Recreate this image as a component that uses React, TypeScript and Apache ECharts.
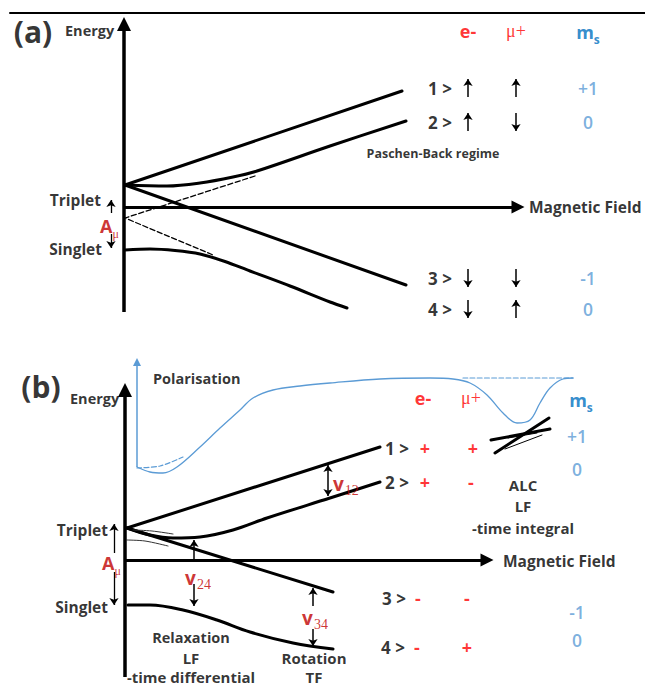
import React, { useEffect, useRef } from 'react';
import * as echarts from 'echarts';

const W = 645;
const H = 686;

// ---------- panel (a) geometry (px-like data units) ----------
const topRule = [[10, 13], [645, 13]];
const aEnergyAxis = [[124, 312], [124, 24]];
const aFieldAxis = [[124, 207], [518, 207]];
const aLevel1 = [[125, 185], [402, 91]];
const aLevel2 = [[125, 185], [167, 186], [200, 183], [233, 177], [257, 171], [330, 146], [406, 121]];
const aLevel3 = [[125, 185], [406, 285]];
const aLevel4 = [[125, 250], [150, 249], [175, 250.5], [200, 254], [225, 261.5], [250, 271], [290, 286], [330, 302], [347, 308]];
const aAsymptotes = [[255, 176], [125, 218], [213, 255]];
const aAmuArrows = [[[111, 213], [111, 200]], [[111, 234], [111, 248]]];

const ketsA = ['1 >', '2 >', '3 >', '4 >'];
const rowYA = [88, 122, 278, 309];
const eSpinA = [1, 1, -1, -1];
const muSpinA = [1, -1, -1, 1];
const msA = ['+1', '0', '-1', '0'];

// ---------- panel (b) geometry ----------
const bEnergyAxis = [[125, 677], [125, 390]];
const bFieldAxis = [[125, 560], [487, 560]];
const bLevel1 = [[127, 528], [380, 447]];
const bLevel2 = [[127, 528], [150, 535], [173, 538], [200, 537], [233, 530], [267, 518], [330, 498], [380, 482]];
const bLevel3 = [[127, 528], [333, 592]];
const bLevel4 = [[128, 605], [150, 605], [183, 610], [217, 620], [250, 632], [293, 643], [333, 649]];
const bGapLines = [[[133, 530], [152, 531], [173, 534]], [[127, 540], [145, 541], [168, 546]]];
const polarisation = [
  [137, 467], [150, 472], [163, 473], [177, 467], [200, 447], [220, 428], [240, 410], [253, 398],
  [273, 390], [300, 386], [330, 383], [380, 379], [430, 378], [453, 379], [470, 383], [487, 395],
  [503, 413], [517, 423], [530, 420], [540, 403], [550, 388], [563, 379], [573, 378],
];
const polDashed = [[[137, 468], [160, 466], [183, 457]], [[463, 378], [573, 378]]];
const polAxis = [[137, 467], [137, 362]];
const alcThick = [[[491, 440], [550, 429]], [[495, 453], [549, 418]]];
const alcThin = [[[505, 449], [542, 435]], [[508, 438], [537, 433]]];
const bAmuArrows = [[[114, 553], [114, 524]], [[114, 572], [114, 605]]];
const nuArrows = [
  [[328, 481], [328, 465]], [[328, 481], [328, 496]],
  [[194, 561], [194, 540]], [[194, 584], [194, 606]],
  [[313, 606], [313, 588]], [[313, 629], [313, 646]],
];

const ketsB = ['1 >', '2 >', '3 >', '4 >'];
const rowYB = [448, 482, 598, 647];
const ketXB = [397, 397, 394, 393];
const eSignB = ['+', '+', '-', '-'];
const eXB = [425, 425, 418, 417];
const muSignB = ['+', '-', '-', '+'];
const muXB = [473, 471, 467, 467];
const msB = ['+1', '0', '-1', '0'];
const msYB = [436, 469, 612, 640];

const FONT = '"Open Sans", "Noto Sans", sans-serif';
const SERIF = '"Liberation Serif", serif';
const RED = '#FF0000';
const DARKRED = '#C00000';
const LIGHTBLUE = '#5B9BD5';
const BLUE = '#0070C0';

type Pt = number[];

function lineSeries(data: Pt[], opts: any = {}) {
  return {
    type: 'line',
    data,
    symbol: 'none',
    showSymbol: false,
    silent: true,
    smooth: opts.smooth ?? false,
    lineStyle: {
      color: opts.color ?? '#000',
      width: opts.width ?? 3,
      type: opts.dash ? 'dashed' : 'solid',
      cap: 'round',
    },
    z: opts.z ?? 2,
  };
}

function arrowSeries(segs: Pt[][], opts: any = {}) {
  return {
    type: 'lines',
    coordinateSystem: 'cartesian2d',
    silent: true,
    symbol: opts.symbol ?? ['none', 'arrow'],
    symbolSize: opts.size ?? 6,
    lineStyle: { color: opts.color ?? '#000', width: opts.width ?? 1.5, opacity: 1, curveness: 0 },
    data: segs.map((c) => ({ coords: c })),
    z: opts.z ?? 3,
  };
}

function txt(x: number, y: number, text: string, style: any, align = 'center') {
  return {
    value: [x, y],
    label: {
      show: true,
      position: [0, 0],
      align,
      verticalAlign: 'middle',
      formatter: text,
      fontFamily: FONT,
      ...style,
    },
  };
}

const bold = (size: number, color = '#000') => ({ fontSize: size, fontWeight: 'bold', color });
const semi = (size: number, color = '#000') => ({ fontSize: size, fontWeight: 600, color });
const muStyle = { fontFamily: SERIF, fontSize: 18, color: RED };

const main = { verticalAlign: 'top', lineHeight: 20 };
const sub = { verticalAlign: 'top', lineHeight: 12, padding: [11, 0, 0, 0] };
const rich = {
  a: { ...main, fontFamily: FONT, fontSize: 18, fontWeight: 'bold', color: DARKRED },
  mu: { ...sub, fontFamily: SERIF, fontSize: 12, color: DARKRED },
  v: { ...main, fontFamily: FONT, fontSize: 19, fontWeight: 'bold', color: DARKRED },
  n: { ...sub, fontFamily: SERIF, fontSize: 14, color: DARKRED, padding: [9, 0, 0, 1] },
  m: { ...main, fontFamily: FONT, fontSize: 18, fontWeight: 'bold', color: BLUE },
  s: { ...sub, fontFamily: FONT, fontSize: 12, fontWeight: 'bold', color: BLUE, padding: [10, 0, 0, 0] },
};

function buildOption() {
  const texts: any[] = [];
  // panel (a)
  texts.push(txt(33, 31, '(a)', bold(30)));
  texts.push(txt(65, 30, 'Energy', bold(14.5), 'left'));
  texts.push(txt(101, 200, 'Triplet', bold(15.5), 'right'));
  texts.push(txt(102, 249, 'Singlet', bold(15.5), 'right'));
  texts.push(txt(100, 227, '{a|A}{mu|μ}', { rich }, 'left'));
  texts.push(txt(468, 31, 'e-', bold(18, RED)));
  texts.push(txt(516, 31, 'μ+', muStyle));
  texts.push(txt(588, 33, '{m|m}{s|s}', { rich }));
  texts.push(txt(433, 153, 'Paschen-Back regime', bold(12.5)));
  texts.push(txt(529, 207, 'Magnetic Field', bold(15.5), 'left'));
  ketsA.forEach((k, i) => {
    texts.push(txt(440, rowYA[i], k, bold(17)));
    texts.push(txt(588, rowYA[i], msA[i], semi(17.5, LIGHTBLUE)));
  });
  // panel (b)
  texts.push(txt(41, 386, '(b)', bold(30)));
  texts.push(txt(70, 398, 'Energy', bold(14.5), 'left'));
  texts.push(txt(153, 378, 'Polarisation', bold(14.5), 'left'));
  texts.push(txt(108, 530, 'Triplet', bold(15.5), 'right'));
  texts.push(txt(108, 607, 'Singlet', bold(15.5), 'right'));
  texts.push(txt(102, 564, '{a|A}{mu|μ}', { rich }, 'left'));
  texts.push(txt(423, 398, 'e-', bold(18, RED)));
  texts.push(txt(471, 398, 'μ+', muStyle));
  texts.push(txt(581, 401, '{m|m}{s|s}', { rich }));
  ketsB.forEach((k, i) => {
    texts.push(txt(ketXB[i], rowYB[i], k, bold(17)));
    texts.push(txt(eXB[i], rowYB[i], eSignB[i], bold(18, RED)));
    texts.push(txt(muXB[i], rowYB[i], muSignB[i], bold(18, RED)));
    texts.push(txt(577, msYB[i], msB[i], semi(17.5, LIGHTBLUE)));
  });
  texts.push(txt(523, 485, 'ALC', bold(15)));
  texts.push(txt(523, 506, 'LF', bold(15)));
  texts.push(txt(523, 528, '-time integral', bold(15)));
  texts.push(txt(503, 561, 'Magnetic Field', bold(15.5), 'left'));
  texts.push(txt(333, 484, '{v|v}{n|12}', { rich }, 'left'));
  texts.push(txt(198, 578, '{v|v}{n|24}', { rich }));
  texts.push(txt(315, 618, '{v|v}{n|34}', { rich }));
  texts.push(txt(191, 637, 'Relaxation', bold(14.5)));
  texts.push(txt(191, 658, 'LF', bold(15)));
  texts.push(txt(191, 677, '-time differential', bold(15)));
  texts.push(txt(314, 658, 'Rotation', bold(15)));
  texts.push(txt(314, 677, 'TF', bold(15)));

  const spinSegs: Pt[][] = [];
  ketsA.forEach((_, i) => {
    const y = rowYA[i];
    spinSegs.push([[468, y + 9 * eSpinA[i]], [468, y - 9 * eSpinA[i]]]);
    spinSegs.push([[516, y + 9 * muSpinA[i]], [516, y - 9 * muSpinA[i]]]);
  });

  return {
    animation: false,
    grid: { left: 0, right: 0, top: 0, bottom: 0 },
    xAxis: { type: 'value', min: 0, max: W, show: false },
    yAxis: { type: 'value', min: 0, max: H, inverse: true, show: false },
    series: [
      lineSeries(topRule, { width: 2 }),
      // panel (a)
      lineSeries(aLevel1),
      lineSeries(aLevel2, { smooth: 0.35 }),
      lineSeries(aLevel3),
      lineSeries(aLevel4, { smooth: 0.3 }),
      lineSeries(aAsymptotes, { width: 1.3, dash: true }),
      arrowSeries([aEnergyAxis], { width: 3.5, symbol: ['none', 'triangle'], size: [12, 14] }),
      arrowSeries([aFieldAxis], { width: 3, symbol: ['none', 'triangle'], size: [11, 13] }),
      arrowSeries(aAmuArrows, { width: 1.3, size: [6, 7] }),
      arrowSeries(spinSegs, { width: 1.5, size: [6, 7] }),
      // panel (b)
      lineSeries(bLevel1),
      lineSeries(bLevel2, { smooth: 0.35 }),
      lineSeries(bLevel3),
      lineSeries(bLevel4, { smooth: 0.35 }),
      ...bGapLines.map((g) => lineSeries(g, { width: 1, smooth: 0.3, color: '#333' })),
      lineSeries(polarisation, { width: 1.3, smooth: 0.35, color: LIGHTBLUE }),
      ...polDashed.map((g) => lineSeries(g, { width: 1.2, dash: true, color: LIGHTBLUE, smooth: 0.3 })),
      arrowSeries([polAxis], { width: 1.5, color: LIGHTBLUE, symbol: ['none', 'triangle'], size: [6, 8] }),
      ...alcThick.map((g) => lineSeries(g, { width: 3 })),
      ...alcThin.map((g) => lineSeries(g, { width: 1 })),
      arrowSeries([bEnergyAxis], { width: 3.5, symbol: ['none', 'triangle'], size: [12, 14] }),
      arrowSeries([bFieldAxis], { width: 3, symbol: ['none', 'triangle'], size: [11, 13] }),
      arrowSeries(bAmuArrows, { width: 1.3, size: [6, 7] }),
      arrowSeries(nuArrows, { width: 1.5, size: [6, 7] }),
      {
        type: 'scatter',
        silent: true,
        symbolSize: 0,
        itemStyle: { color: 'transparent' },
        data: texts,
        z: 10,
      },
    ],
  };
}

export default function App() {
  const ref = useRef<HTMLDivElement>(null);
  useEffect(() => {
    if (!ref.current) return;
    const chart = echarts.init(ref.current, undefined, { renderer: 'svg' });
    chart.setOption(buildOption() as any);
    return () => chart.dispose();
  }, []);
  return (
    <div
      ref={ref}
      style={{ position: 'fixed', left: 0, top: 0, width: W, height: H, background: '#fff' }}
    />
  );
}
